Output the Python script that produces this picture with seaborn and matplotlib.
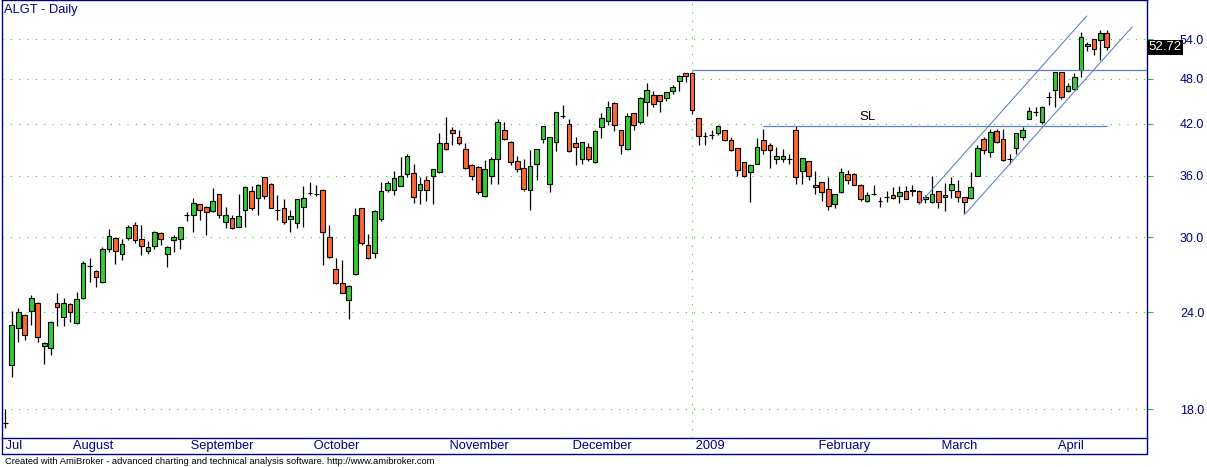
import pandas as pd
import matplotlib
matplotlib.use("Agg")
import matplotlib.pyplot as plt
import matplotlib.transforms as mtransforms
from matplotlib.lines import Line2D
from matplotlib.ticker import NullLocator
import seaborn as sns

sns.set_style("white")
plt.rcParams["font.family"] = ["Liberation Sans", "DejaVu Sans"]

# ALGT daily OHLC, one entry per trading bar
opens = [
    17.3, 20.55, 22.9, 23.83, 24.1, 24.71, 21.7, 21.6, 24.71, 23.67,
    24.57, 23.27, 25.07, 27.52, 27.15, 26.29, 28.98, 29.95, 28.55, 29.95,
    31.14, 29.86, 28.8, 29.2, 30.4, 28.55, 29.77, 29.86, 32.0, 32.0,
    33.1, 32.84, 32.4, 34.1, 31.4, 31.8, 30.96, 32.5, 34.45, 33.7,
    35.85, 35.17, 32.56, 32.7, 31.7, 31.3, 32.84, 34.25, 34.07, 34.55,
    30.0, 27.3, 26.2, 24.92, 26.9, 32.7, 29.33, 28.63, 31.7, 34.55,
    34.55, 34.95, 36.2, 36.3, 34.55, 35.6, 36.0, 36.4, 39.7, 41.3,
    40.34, 38.96, 37.2, 37.0, 33.9, 36.0, 37.85, 41.3, 39.85, 37.6,
    36.8, 34.55, 37.3, 40.2, 35.17, 39.85, 43.0, 42.0, 39.7, 37.85,
    39.2, 37.45, 41.55, 42.4, 44.7, 41.25, 38.96, 43.35, 42.2, 44.85,
    45.7, 45.7, 45.4, 46.35, 47.7, 48.8, 48.9, 42.7, 40.5, 40.6,
    40.85, 41.25, 40.0, 39.1, 37.5, 36.4, 37.3, 40.0, 39.4, 37.85,
    37.8, 37.8, 41.3, 36.5, 37.6, 35.05, 35.3, 34.65, 33.1, 34.3,
    36.2, 36.2, 35.05, 33.4, 34.1, 33.4, 33.85, 34.0, 33.9, 34.4,
    34.4, 34.45, 33.6, 33.3, 34.4, 33.8, 34.5, 34.45, 33.8, 33.7,
    36.0, 40.2, 38.6, 41.1, 40.2, 37.85, 39.1, 40.45, 42.6, 43.55,
    42.2, 45.55, 46.5, 48.96, 46.35, 46.6, 49.3, 52.9, 54.0, 53.85,
    54.95,
]
highs = [
    18.0, 24.07, 24.33, 23.9, 25.28, 24.75, 22.0, 23.4, 25.38, 25.07,
    24.71, 25.5, 27.94, 28.16, 27.2, 29.15, 30.78, 30.0, 29.86, 31.1,
    31.4, 31.14, 29.7, 30.55, 30.48, 29.2, 30.2, 30.95, 32.35, 33.7,
    33.15, 32.9, 34.75, 34.15, 32.84, 32.08, 34.1, 34.95, 34.95, 35.1,
    35.9, 35.2, 34.0, 33.6, 32.5, 33.65, 34.95, 35.3, 35.05, 34.65,
    31.14, 28.2, 28.05, 26.0, 32.76, 32.75, 30.3, 32.5, 35.3, 35.4,
    36.5, 38.1, 38.45, 37.3, 35.85, 36.0, 36.75, 40.85, 42.9, 41.55,
    41.3, 39.7, 37.25, 37.05, 37.7, 38.1, 42.6, 42.2, 39.9, 38.2,
    37.8, 38.85, 39.0, 41.75, 40.4, 43.55, 44.45, 42.6, 40.45, 39.85,
    39.7, 41.25, 43.35, 45.0, 44.85, 41.3, 43.35, 43.4, 45.45, 47.45,
    46.35, 45.75, 46.15, 47.15, 48.6, 48.85, 49.0, 42.75, 41.0, 41.25,
    41.9, 41.3, 40.34, 39.15, 37.55, 37.3, 40.3, 41.4, 39.7, 39.2,
    38.96, 38.45, 41.7, 38.0, 37.65, 36.5, 35.35, 35.85, 34.15, 36.8,
    36.6, 36.3, 35.1, 34.3, 35.05, 33.8, 34.45, 34.85, 34.95, 34.95,
    35.05, 34.5, 34.0, 36.0, 34.45, 35.2, 35.85, 35.6, 33.85, 36.4,
    39.4, 40.45, 41.4, 41.4, 41.4, 38.45, 40.9, 41.55, 44.1, 44.1,
    44.3, 46.15, 49.0, 49.0, 47.45, 48.9, 55.1, 53.5, 54.05, 55.45,
    55.45,
]
lows = [
    17.0, 19.8, 21.97, 22.1, 23.11, 22.0, 20.6, 21.14, 23.04, 23.04,
    23.3, 23.2, 25.0, 26.26, 25.87, 26.2, 28.7, 27.7, 28.0, 29.75,
    29.5, 28.43, 28.5, 28.98, 29.3, 27.44, 28.7, 28.95, 31.5, 30.45,
    31.6, 30.2, 32.35, 31.8, 30.8, 30.78, 30.9, 30.9, 32.5, 32.08,
    33.6, 32.7, 31.6, 31.2, 30.48, 30.8, 30.9, 34.0, 33.9, 27.6,
    28.2, 26.1, 25.4, 23.55, 26.8, 29.33, 28.15, 28.2, 31.5, 34.3,
    34.0, 34.9, 35.85, 33.2, 33.1, 33.4, 33.1, 36.3, 38.9, 39.4,
    39.5, 36.7, 35.5, 34.1, 33.85, 35.17, 35.17, 40.0, 37.2, 36.4,
    34.45, 32.56, 35.6, 39.7, 34.3, 38.7, 42.8, 38.6, 37.2, 37.3,
    37.6, 37.4, 40.3, 41.9, 41.1, 38.45, 38.9, 41.3, 42.0, 43.05,
    44.1, 43.5, 45.0, 45.85, 46.35, 47.5, 43.2, 39.4, 39.4, 40.2,
    40.6, 39.95, 38.7, 36.0, 35.85, 33.3, 37.25, 38.4, 36.8, 37.3,
    37.45, 37.3, 35.17, 35.17, 35.6, 34.1, 33.4, 32.5, 32.76, 34.25,
    35.17, 35.0, 33.4, 33.35, 34.0, 32.84, 33.3, 33.65, 33.2, 33.6,
    33.9, 33.1, 33.25, 33.2, 32.76, 32.4, 33.7, 33.3, 32.2, 33.65,
    35.95, 38.4, 38.1, 39.7, 37.6, 37.3, 38.4, 40.0, 42.55, 43.05,
    42.0, 44.45, 44.1, 45.2, 46.15, 46.5, 48.2, 52.1, 51.6, 50.8,
    52.3,
]
closes = [
    17.3, 23.14, 24.0, 22.44, 25.07, 22.3, 21.9, 23.34, 24.4, 24.64,
    24.0, 24.99, 27.8, 27.52, 26.63, 28.98, 30.13, 28.8, 29.4, 30.96,
    29.73, 29.2, 29.15, 30.48, 29.86, 29.15, 30.0, 30.88, 32.0, 33.2,
    32.5, 32.33, 33.4, 32.0, 32.08, 30.85, 31.9, 34.85, 32.76, 35.05,
    33.9, 32.76, 32.56, 31.4, 31.9, 33.6, 33.7, 34.25, 34.07, 30.48,
    28.3, 26.2, 25.44, 25.98, 32.0, 29.5, 28.2, 32.4, 34.4, 35.2,
    35.75, 36.0, 38.2, 33.8, 35.17, 34.55, 36.7, 39.7, 38.96, 40.85,
    39.7, 36.8, 36.0, 34.3, 36.7, 37.8, 42.2, 40.2, 37.45, 36.7,
    34.65, 37.1, 38.96, 41.7, 40.34, 43.5, 43.0, 38.7, 39.2, 39.8,
    37.85, 41.1, 42.8, 44.1, 41.9, 39.5, 43.05, 41.9, 45.3, 46.5,
    44.6, 45.0, 46.1, 46.85, 48.45, 48.45, 43.7, 40.5, 40.5, 40.6,
    41.7, 40.0, 38.85, 36.6, 36.0, 37.2, 39.2, 38.85, 38.85, 38.2,
    38.2, 37.8, 35.85, 37.9, 36.0, 34.85, 34.3, 32.95, 34.1, 36.4,
    35.5, 35.05, 33.6, 34.0, 34.1, 33.4, 33.85, 33.7, 34.3, 33.65,
    34.55, 33.3, 33.8, 34.1, 33.3, 34.0, 35.17, 33.8, 33.3, 34.85,
    39.1, 38.85, 41.0, 39.8, 37.7, 37.85, 40.85, 41.25, 43.6, 43.55,
    44.1, 45.55, 48.96, 45.45, 46.95, 48.3, 54.3, 53.2, 52.4, 54.95,
    52.72,
]

# month labels and the bar where each month begins
month_labels = ["Jul", "August", "September", "October", "November",
                "December", "2009", "February", "March", "April"]
month_starts = [-0.5, 10, 28, 47, 68, 87, 106, 125, 144, 162]
year_start = 106
price_ticks = [18, 24, 30, 36, 42, 48, 54]

# drawn studies
resistance_level = 49.25
resistance_start = 106
sl_level = 41.75
sl_bars = [117, 170]
sl_text_pos = (133, 42.85)
channel_upper_x = [141.05, 166.9]
channel_upper_y = [33.11, 57.86]
channel_lower_x = [148.0, 173.9]
channel_lower_y = [32.05, 56.0]

navy = "#000080"
grid_green = "#22cc22"
study_blue = "#5a7ec0"
up_color = "#33cc33"
down_color = "#ff6633"

df = pd.DataFrame({"open": opens, "high": highs, "low": lows, "close": closes})
df["bar"] = range(len(df))
df["bottom"] = df[["open", "close"]].min(axis=1)
df["height"] = (df["close"] - df["open"]).abs()
df["color"] = [
    "black" if c == o else (up_color if c > o else down_color)
    for o, c in zip(df["open"], df["close"])
]

W, H = 1207, 467
fig = plt.figure(figsize=(W / 100, H / 100), dpi=100)
ax = fig.add_axes([2 / W, 29.3 / H, 1145 / W, 437.7 / H])
ax.set_yscale("log")
ax.set_xlim(-0.51, 176.2)
ax.set_ylim(16.54, 60.67)

# grid
for p in price_ticks:
    ax.axhline(p, color=grid_green, lw=0.75, ls=(0, (1, 7)), zorder=0)
ax.axvline(year_start, color=grid_green, lw=0.75, ls=(0, (1, 7)), zorder=0)

# candles
ax.vlines(df["bar"], df["low"], df["high"], color="black", lw=0.9, zorder=2)
ax.bar(df["bar"], df["height"], bottom=df["bottom"], width=0.72,
       color=df["color"], edgecolor="black", linewidth=0.8, zorder=3)

# studies
ax.hlines(resistance_level, resistance_start, 176.2, color=study_blue, lw=0.9, zorder=4)
ax.hlines(sl_level, sl_bars[0], sl_bars[1], color=study_blue, lw=0.9, zorder=4)
ax.text(sl_text_pos[0], sl_text_pos[1], "SL", ha="center", va="center",
        fontsize=9.5, color="black")
sns.lineplot(x=channel_upper_x, y=channel_upper_y, ax=ax, color=study_blue, lw=0.75, zorder=4)
sns.lineplot(x=channel_lower_x, y=channel_lower_y, ax=ax, color=study_blue, lw=0.75, zorder=4)

# axes styling
for s in ax.spines.values():
    s.set_color(navy)
    s.set_linewidth(1.0)
ax.yaxis.tick_right()
ax.yaxis.set_minor_locator(NullLocator())
ax.set_yticks(price_ticks)
ax.set_yticklabels([f"{p:.1f}" for p in price_ticks])
ax.tick_params(axis="y", which="major", length=4.3, width=0.8, color=grid_green,
               labelcolor=navy, labelsize=9, pad=19.4)
ax.set_xticks(month_starts)
ax.set_xticklabels([" " + m for m in month_labels])
ax.xaxis.set_minor_locator(NullLocator())
for lab in ax.get_xticklabels():
    lab.set_ha("left")
ax.tick_params(axis="x", length=4.3, width=0.8, color=navy, labelcolor=navy,
               labelsize=9.3, pad=-2.5)
ax.set_xlabel("")
ax.set_ylabel("")

# label strip frame
y_bot = 12.7 / H
y_ax = 29.3 / H
fig.add_artist(Line2D([2 / W, 1147 / W], [y_bot, y_bot], transform=fig.transFigure, color=navy, lw=1))
fig.add_artist(Line2D([2 / W, 2 / W], [y_bot, y_ax], transform=fig.transFigure, color=navy, lw=1))
fig.add_artist(Line2D([1147 / W, 1147 / W], [y_bot, y_ax], transform=fig.transFigure, color=navy, lw=1))

# last price marker
trans = mtransforms.blended_transform_factory(ax.transAxes, ax.transData)
ax.text(1.0015, closes[-1], f"{closes[-1]:.2f}", transform=trans, ha="left", va="center",
        color="white", fontsize=9.5, clip_on=False,
        bbox=dict(boxstyle="square,pad=0.12", facecolor="black", edgecolor="none"))

fig.text(4 / W, 1 - 10 / H, "ALGT - Daily", ha="left", va="center", color=navy, fontsize=9.3)
fig.text(5 / W, 6 / H, "Created with AmiBroker - advanced charting and technical analysis "
         "software. http://www.amibroker.com", ha="left", va="center", color="black",
         fontsize=6.75)

fig.savefig("out.png", dpi=100, facecolor="white")
